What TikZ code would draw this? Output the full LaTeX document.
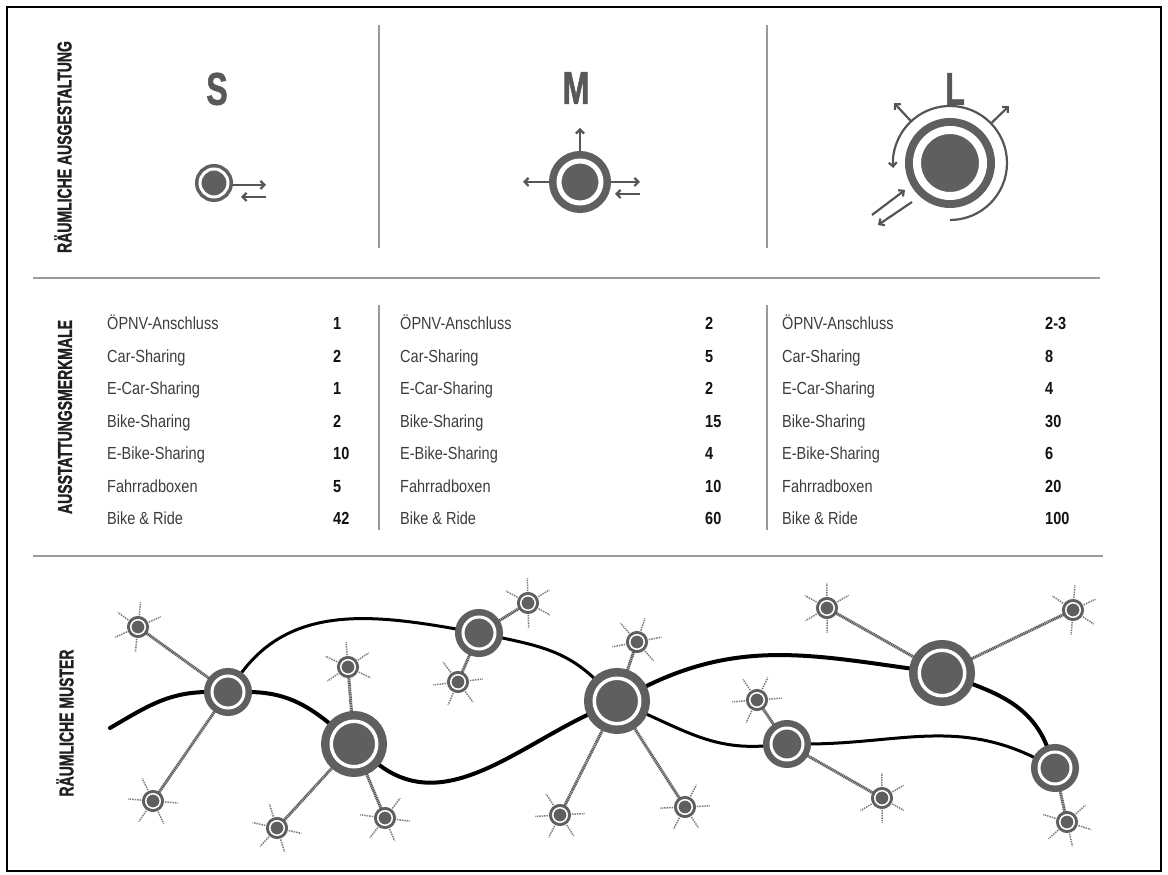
\documentclass[tikz,border=0pt]{standalone}
\usepackage{fontspec}
\setmainfont{Liberation Sans}
\newfontfamily\condfont[FakeStretch=0.83]{Liberation Sans}
\newfontfamily\headfont[FakeStretch=0.7, FakeBold=1.2]{Liberation Sans}
\usetikzlibrary{arrows.meta, calc, backgrounds}

\definecolor{stopgray}{HTML}{5F5F5F}
\definecolor{arrowgray}{HTML}{555555}
\definecolor{lettergray}{HTML}{585858}
\definecolor{headblack}{HTML}{202020}
\definecolor{labelgray}{HTML}{3C3C3C}
\definecolor{numblack}{HTML}{111111}
\definecolor{sepgray}{HTML}{9A9A9A}
\definecolor{feedgray}{HTML}{5A5A5A}

\newcommand\amount[1]{\textbf{\color{numblack}#1}}
\newcommand\satrays[2]{%
  \foreach \ang in {60,120,...,300}{%
    \draw[spoke] ($(#1)!12pt!\ang:(#2)$) -- ($(#1)!25pt!\ang:(#2)$);}}

\tikzset{
  heading/.style={inner sep=0pt, text=headblack,
    font=\headfont\bfseries\fontsize{20}{20}\selectfont},
  sizeletter/.style={inner sep=0pt, text=lettergray,
    font=\headfont\bfseries\fontsize{46}{46}\selectfont},
  tablecol/.style={anchor=base west, inner sep=0pt, text=labelgray,
    font=\condfont\fontsize{17.5}{16.25}\selectfont},
  divider/.style={draw=sepgray, line width=1.3pt},
  ringnode/.style={circle, draw=stopgray, fill=stopgray, double=white, inner sep=0pt},
  stopS/.style={ringnode, line width=3.5pt, double distance=3pt, minimum size=28pt},
  stopM/.style={ringnode, line width=7.5pt, double distance=5pt, minimum size=42pt},
  stopL/.style={ringnode, line width=8pt, double distance=8pt, minimum size=66pt},
  hub/.style={ringnode, line width=8.5pt, double distance=3.5pt, minimum size=45.5pt},
  station/.style={ringnode, line width=6.5pt, double distance=3pt, minimum size=32pt},
  satellite/.style={ringnode, line width=3pt, double distance=1.5pt, minimum size=14.5pt},
  flow/.style={draw=arrowgray, line width=2.2pt, -{Straight Barb[length=4pt, width=8pt]}},
  feeder/.style={draw=feedgray, line width=3pt, dash pattern=on 1.2pt off 0.6pt},
  spoke/.style={draw=feedgray!80, line width=1.5pt, dash pattern=on 1.5pt off 1pt},
  mainline/.style={draw=black, line width=4pt, line cap=round},
  branchline/.style={draw=black, line width=3pt}
}

\begin{document}
\begin{tikzpicture}[x=1pt, y=1pt]
\useasboundingbox (0,0) rectangle (1168,875);
\draw[line width=2.5pt] (7,4) rectangle (1161,868);

\draw[divider] (33,597) -- (1100,597);
\draw[divider] (33,319) -- (1103,319);
\draw[divider] (379,850) -- (379,627);
\draw[divider] (767,850) -- (767,627);
\draw[divider] (379,570) -- (379,345);
\draw[divider] (767,570) -- (767,345);

\node[heading, rotate=90] (hdLayout) at (63,728) {RÄUMLICHE AUSGESTALTUNG};
\node[heading, rotate=90] (hdFeatures) at (65,458) {AUSSTATTUNGSMERKMALE};
\node[heading, rotate=90] (hdPattern) at (65,152) {RÄUMLICHE MUSTER};

\node[sizeletter] (sizeS) at (217,786) {S};
\node[sizeletter] (sizeM) at (576,787) {M};
\node[sizeletter] (sizeL) at (955,786) {L};

\node[stopS] (iconS) at (214,692) {};
\node[stopM] (iconM) at (580,693) {};
\node[stopL] (iconL) at (950,712) {};

\begin{scope}[on background layer]
\draw[flow] ([yshift=-2pt]iconS.east) -- ([shift={(52,-2)}]iconS.center);
\draw[flow] ([shift={(52,-14)}]iconS.center) -- ([shift={(27,-14)}]iconS.center);
\draw[flow] (iconM.north) -- ([yshift=54pt]iconM.center);
\draw[flow] (iconM.west) -- ([xshift=-57pt]iconM.center);
\draw[flow] (iconM.east) -- ([xshift=60pt]iconM.center);
\draw[flow] ([shift={(60,-12)}]iconM.center) -- ([shift={(35,-12)}]iconM.center);
\draw[flow] ([shift={(-90:57)}]iconL.center)
  arc[start angle=-90, end angle=185, radius=57];
\draw[flow] ([shift={(133:57)}]iconL.center) -- ([shift={(133:82)}]iconL.center);
\draw[flow] ([shift={(44:57)}]iconL.center) -- ([shift={(44:82)}]iconL.center);
\draw[flow] ([shift={(-78,-52)}]iconL.center) -- ([shift={(-45,-27)}]iconL.center);
\draw[flow] ([shift={(-38,-39)}]iconL.center) -- ([shift={(-72,-62)}]iconL.center);
\end{scope}

\node[tablecol] (tabS) at (107,545) {\def\arraystretch{2}%
\begin{tabular}[t]{@{}p{226pt}@{}l@{}}
ÖPNV-Anschluss & \amount{1}\\
Car-Sharing & \amount{2}\\
E-Car-Sharing & \amount{1}\\
Bike-Sharing & \amount{2}\\
E-Bike-Sharing & \amount{10}\\
Fahrradboxen & \amount{5}\\
Bike \& Ride & \amount{42}
\end{tabular}};
\node[tablecol] (tabM) at (400,545) {\def\arraystretch{2}%
\begin{tabular}[t]{@{}p{305pt}@{}l@{}}
ÖPNV-Anschluss & \amount{2}\\
Car-Sharing & \amount{5}\\
E-Car-Sharing & \amount{2}\\
Bike-Sharing & \amount{15}\\
E-Bike-Sharing & \amount{4}\\
Fahrradboxen & \amount{10}\\
Bike \& Ride & \amount{60}
\end{tabular}};
\node[tablecol] (tabL) at (782,545) {\def\arraystretch{2}%
\begin{tabular}[t]{@{}p{263pt}@{}l@{}}
ÖPNV-Anschluss & \amount{2-3}\\
Car-Sharing & \amount{8}\\
E-Car-Sharing & \amount{4}\\
Bike-Sharing & \amount{30}\\
E-Bike-Sharing & \amount{6}\\
Fahrradboxen & \amount{20}\\
Bike \& Ride & \amount{100}
\end{tabular}};

\node[station] (A) at (228,183) {};
\node[hub] (B) at (354,131) {};
\node[station] (C) at (479,242) {};
\node[hub] (D) at (617,174) {};
\node[hub] (E) at (942,202) {};
\node[station] (F) at (787,131) {};
\node[station] (G) at (1055,107) {};
\coordinate (westEnd) at (110,147);

\node[satellite] (satA1) at (138,248) {};
\node[satellite] (satA2) at (153,74) {};
\node[satellite] (satB1) at (348,208) {};
\node[satellite] (satB2) at (277,47) {};
\node[satellite] (satB3) at (385,57) {};
\node[satellite] (satC1) at (528,272) {};
\node[satellite] (satC2) at (458,193) {};
\node[satellite] (satD1) at (637,233) {};
\node[satellite] (satD2) at (560,60) {};
\node[satellite] (satD3) at (685,68) {};
\node[satellite] (satE1) at (827,267) {};
\node[satellite] (satE2) at (1073,265) {};
\node[satellite] (satF1) at (757,175) {};
\node[satellite] (satF2) at (882,77) {};
\node[satellite] (satG1) at (1067,53) {};

\begin{scope}[on background layer]
\draw[mainline] (westEnd) to[out=30,in=180] (A) to[out=0,in=140] (B)
  to[out=-40,in=205] (D) to[out=27,in=172] (E) to[out=-20,in=110] (G);
\draw[branchline] (A) to[out=55,in=170] (C) to[out=-12,in=135] (D)
  to[out=-24,in=185] (F) to[out=0,in=153] (G);

\draw[feeder] (satA1) -- (A);
\draw[feeder] (satA2) -- (A);
\draw[feeder] (satB1) -- (B);
\draw[feeder] (satB2) -- (B);
\draw[feeder] (satB3) -- (B);
\draw[feeder] (satC1) -- (C);
\draw[feeder] (satC2) -- (C);
\draw[feeder] (satD1) -- (D);
\draw[feeder] (satD2) -- (D);
\draw[feeder] (satD3) -- (D);
\draw[feeder] (satE1) -- (E);
\draw[feeder] (satE2) -- (E);
\draw[feeder] (satF1) -- (F);
\draw[feeder] (satF2) -- (F);
\draw[feeder] (satG1) -- (G);

\satrays{satA1}{A}
\satrays{satA2}{A}
\satrays{satB1}{B}
\satrays{satB2}{B}
\satrays{satB3}{B}
\satrays{satC1}{C}
\satrays{satC2}{C}
\satrays{satD1}{D}
\satrays{satD2}{D}
\satrays{satD3}{D}
\satrays{satE1}{E}
\satrays{satE2}{E}
\satrays{satF1}{F}
\satrays{satF2}{F}
\satrays{satG1}{G}
\end{scope}
\end{tikzpicture}
\end{document}
